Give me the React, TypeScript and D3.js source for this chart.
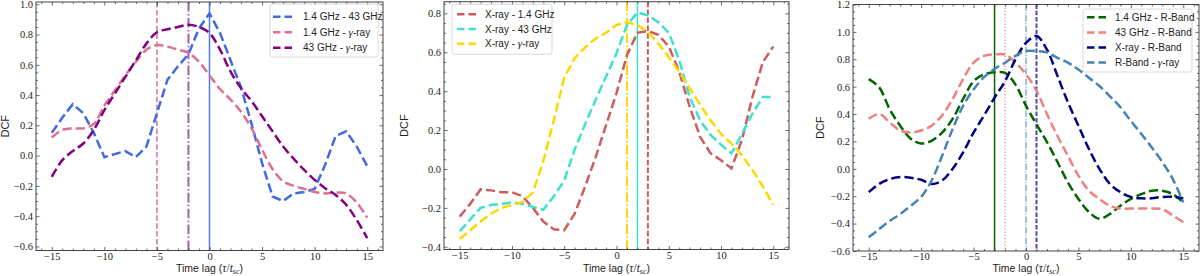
import React, { useEffect, useRef } from "react";
import * as d3 from "d3";

// time lags (tau / t_sc)
const lags = [-15, -14, -13, -12, -11, -10, -9, -8, -7, -6, -5, -4, -3, -2, -1, 0, 1, 2, 3, 4, 5, 6, 7, 8, 9, 10, 11, 12, 13, 14, 15];

// panel 1
const dcf14_43 = [0.15, 0.25, 0.34, 0.28, 0.15, -0.01, 0.01, 0.03, -0.01, 0.06, 0.28, 0.5, 0.59, 0.67, 0.84, 0.94, 0.81, 0.63, 0.45, 0.21, -0.05, -0.27, -0.3, -0.25, -0.24, -0.22, -0.06, 0.13, 0.16, 0.06, -0.07];
const dcf14_gamma = [0.12, 0.17, 0.18, 0.18, 0.21, 0.33, 0.43, 0.53, 0.62, 0.7, 0.73, 0.72, 0.7, 0.68, 0.62, 0.53, 0.44, 0.37, 0.29, 0.18, 0.04, -0.09, -0.17, -0.2, -0.22, -0.24, -0.25, -0.245, -0.25, -0.31, -0.41];
const dcf43_gamma = [-0.14, -0.03, 0.03, 0.08, 0.17, 0.3, 0.41, 0.52, 0.63, 0.74, 0.815, 0.835, 0.85, 0.865, 0.85, 0.81, 0.7, 0.555, 0.445, 0.36, 0.26, 0.16, 0.06, -0.02, -0.095, -0.16, -0.215, -0.26, -0.325, -0.425, -0.545];

// panel 2
const dcfX_14 = [-0.245, -0.18, -0.105, -0.11, -0.12, -0.12, -0.14, -0.2, -0.27, -0.31, -0.315, -0.23, -0.09, 0.06, 0.225, 0.39, 0.585, 0.7, 0.71, 0.69, 0.63, 0.5, 0.32, 0.165, 0.08, 0.045, 0.003, 0.15, 0.37, 0.55, 0.63];
const dcfX_43 = [-0.32, -0.26, -0.2, -0.185, -0.18, -0.17, -0.18, -0.195, -0.21, -0.14, -0.06, 0.1, 0.23, 0.355, 0.475, 0.595, 0.74, 0.805, 0.79, 0.755, 0.7, 0.56, 0.37, 0.25, 0.175, 0.125, 0.08, 0.18, 0.285, 0.37, 0.37];
const dcfX_gamma = [-0.36, -0.315, -0.27, -0.23, -0.2, -0.185, -0.17, -0.12, 0.04, 0.25, 0.47, 0.57, 0.625, 0.67, 0.7, 0.74, 0.755, 0.74, 0.705, 0.645, 0.575, 0.5, 0.415, 0.33, 0.25, 0.18, 0.13, 0.07, -0.005, -0.09, -0.185];

// panel 3
const dcf14_R = [0.655, 0.595, 0.435, 0.315, 0.22, 0.185, 0.205, 0.265, 0.365, 0.51, 0.64, 0.69, 0.705, 0.7, 0.615, 0.46, 0.325, 0.195, 0.05, -0.1, -0.22, -0.315, -0.365, -0.33, -0.27, -0.22, -0.185, -0.16, -0.16, -0.185, -0.245];
const dcf43_R = [0.365, 0.4, 0.34, 0.28, 0.265, 0.28, 0.315, 0.39, 0.51, 0.655, 0.775, 0.825, 0.835, 0.835, 0.775, 0.69, 0.57, 0.4, 0.24, 0.095, -0.05, -0.16, -0.22, -0.27, -0.29, -0.29, -0.29, -0.29, -0.295, -0.34, -0.39];
const dcfX_R = [-0.17, -0.11, -0.075, -0.06, -0.065, -0.08, -0.11, -0.085, 0.0, 0.12, 0.265, 0.39, 0.52, 0.64, 0.8, 0.92, 0.97, 0.87, 0.68, 0.485, 0.315, 0.145, 0.0, -0.11, -0.17, -0.205, -0.215, -0.215, -0.205, -0.205, -0.215];
const dcfR_gamma = [-0.5, -0.44, -0.38, -0.33, -0.27, -0.205, -0.085, 0.095, 0.29, 0.46, 0.58, 0.67, 0.73, 0.775, 0.825, 0.86, 0.86, 0.85, 0.81, 0.775, 0.725, 0.665, 0.605, 0.53, 0.45, 0.35, 0.255, 0.155, 0.05, -0.075, -0.245];

// peak lags marked by vertical lines
const peaks1 = [-5, -2, 0];
const peaks2 = [1, 2, 3];
const peaks3 = [-3, -2, 0, 1];

const xTicks = [-15, -10, -5, 0, 5, 10, 15];
const yTicks1 = [-0.6, -0.4, -0.2, 0.0, 0.2, 0.4, 0.6, 0.8, 1.0];
const yTicks2 = [-0.4, -0.2, 0.0, 0.2, 0.4, 0.6, 0.8];
const yTicks3 = [-0.6, -0.4, -0.2, 0.0, 0.2, 0.4, 0.6, 0.8, 1.0, 1.2];

const GAMMA = "\u03b3";

const panels = [
  {
    box: { x0: 36, x1: 383, y0: 2, y1: 250.5 },
    ylim: [-0.627, 1.015],
    yTicks: yTicks1,
    ylabelX: 5,
    series: [
      { name: ["1.4 GHz - 43 GHz"], values: dcf14_43, color: "royalblue", smooth: false },
      { name: ["1.4 GHz - ", "-ray"], values: dcf14_gamma, color: "palevioletred", smooth: true },
      { name: ["43 GHz - ", "-ray"], values: dcf43_gamma, color: "purple", smooth: true },
    ],
    vlines: [
      { x: peaks1[0], color: "palevioletred", dash: "5.5,2.4", w: 1.5, op: 1 },
      { x: peaks1[1], color: "purple", dash: "9.6,2.4,1.5,2.4", w: 2, op: 0.65 },
      { x: peaks1[2], color: "royalblue", dash: null, w: 1.5, op: 0.9 },
    ],
    legend: { x: 270, y: 4, w: 108, h: 53, row0: 16.7, dy: 15.5, hx: 273, hw: 20, tx: 303 },
  },
  {
    box: { x0: 444, x1: 789, y0: 1.7, y1: 249.5 },
    ylim: [-0.414, 0.86],
    yTicks: yTicks2,
    ylabelX: 404,
    series: [
      { name: ["X-ray - 1.4 GHz"], values: dcfX_14, color: "indianred", smooth: false },
      { name: ["X-ray - 43 GHz"], values: dcfX_43, color: "turquoise", smooth: false },
      { name: ["X-ray - ", "-ray"], values: dcfX_gamma, color: "gold", smooth: false },
    ],
    vlines: [
      { x: peaks2[0], color: "gold", dash: "9.6,2.4,1.5,2.4", w: 2, op: 1 },
      { x: peaks2[1], color: "turquoise", dash: null, w: 1.5, op: 1 },
      { x: peaks2[2], color: "indianred", dash: "5.5,2.4", w: 2, op: 1 },
    ],
    legend: { x: 452, y: 4.3, w: 100, h: 50, row0: 14.3, dy: 14.7, hx: 457, hw: 21, tx: 485 },
  },
  {
    box: { x0: 853, x1: 1199, y0: 4.5, y1: 251 },
    ylim: [-0.6, 1.2],
    yTicks: yTicks3,
    ylabelX: 820,
    series: [
      { name: ["1.4 GHz - R-Band"], values: dcf14_R, color: "darkgreen", smooth: true },
      { name: ["43 GHz - R-Band"], values: dcf43_R, color: "lightcoral", smooth: true },
      { name: ["X-ray - R-Band"], values: dcfX_R, color: "navy", smooth: true },
      { name: ["R-Band - ", "-ray"], values: dcfR_gamma, color: "steelblue", smooth: true },
    ],
    vlines: [
      { x: peaks3[0], color: "darkgreen", dash: null, w: 1.5, op: 1 },
      { x: peaks3[1], color: "lightcoral", dash: "1.2,2", w: 1.2, op: 1 },
      { x: peaks3[2], color: "steelblue", dash: "6.4,1.6,1,1.6", w: 1, op: 1 },
      { x: peaks3[3], color: "navy", dash: "4.5,1.8", w: 2, op: 0.7 },
    ],
    legend: { x: 1083, y: 9, w: 109, h: 63, row0: 17.3, dy: 15.1, hx: 1087, hw: 21, tx: 1115 },
  },
];

const serif = "'Liberation Serif', 'Times New Roman', serif";
const sans = "'Liberation Sans', 'DejaVu Sans', sans-serif";
const fmt = (d: number) => d3.format(".1f")(d).replace("-", "\u2212");
const fmtX = (d: number) => String(d).replace("-", "\u2212");

export default function App() {
  const ref = useRef<SVGSVGElement>(null);

  useEffect(() => {
    const svg = d3.select(ref.current);
    svg.selectAll("*").remove();

    panels.forEach((p) => {
      const { box } = p;
      const x = d3.scaleLinear().domain([-16.5, 16.5]).range([box.x0, box.x1]);
      const y = d3.scaleLinear().domain(p.ylim).range([box.y1, box.y0]);
      const g = svg.append("g");

      // vertical lag markers
      p.vlines.forEach((v) => {
        g.append("line")
          .attr("x1", x(v.x)).attr("x2", x(v.x))
          .attr("y1", box.y0).attr("y2", box.y1)
          .attr("stroke", v.color)
          .attr("stroke-width", v.w)
          .attr("stroke-opacity", v.op)
          .attr("stroke-dasharray", v.dash);
      });

      // curves
      p.series.forEach((s) => {
        const line = d3.line<number>()
          .x((_, i) => x(lags[i]))
          .y((d) => y(d))
          .curve(s.smooth ? d3.curveCatmullRom.alpha(0.5) : d3.curveLinear);
        g.append("path")
          .attr("d", line(s.values))
          .attr("fill", "none")
          .attr("stroke", s.color)
          .attr("stroke-width", 2.5)
          .attr("stroke-dasharray", "9.25,4");
      });

      // ticks, inward on all four sides
      const minorX = d3.range(-16, 17, 1).filter((t) => t % 5 !== 0);
      const yStep = 0.05;
      const minorY = d3.range(Math.ceil(p.ylim[0] / yStep), Math.floor(p.ylim[1] / yStep) + 1)
        .map((k) => k * yStep)
        .filter((t) => Math.abs(Math.round(t / 0.2) * 0.2 - t) > 1e-6);

      const axisStyle = (sel: any) => {
        sel.select(".domain").remove();
        sel.selectAll("line").attr("stroke", "#444").attr("stroke-width", 0.8);
      };

      g.append("g").attr("transform", `translate(0,${box.y1})`)
        .call(d3.axisBottom(x).tickValues(xTicks).tickSize(-3.5).tickPadding(2).tickFormat(fmtX as any))
        .call(axisStyle)
        .selectAll("text").attr("font-family", serif).attr("font-size", 10.5).attr("fill", "#222");
      g.append("g").attr("transform", `translate(0,${box.y1})`)
        .call(d3.axisBottom(x).tickValues(minorX).tickSize(-2).tickFormat(() => ""))
        .call(axisStyle);
      g.append("g").attr("transform", `translate(0,${box.y0})`)
        .call(d3.axisTop(x).tickValues(xTicks).tickSize(-3.5).tickFormat(() => ""))
        .call(axisStyle);
      g.append("g").attr("transform", `translate(0,${box.y0})`)
        .call(d3.axisTop(x).tickValues(minorX).tickSize(-2).tickFormat(() => ""))
        .call(axisStyle);

      g.append("g").attr("transform", `translate(${box.x0},0)`)
        .call(d3.axisLeft(y).tickValues(p.yTicks).tickSize(-3.5).tickPadding(3).tickFormat(fmt as any))
        .call(axisStyle)
        .selectAll("text").attr("font-family", serif).attr("font-size", 10.5).attr("fill", "#222");
      g.append("g").attr("transform", `translate(${box.x0},0)`)
        .call(d3.axisLeft(y).tickValues(minorY).tickSize(-2).tickFormat(() => ""))
        .call(axisStyle);
      g.append("g").attr("transform", `translate(${box.x1},0)`)
        .call(d3.axisRight(y).tickValues(p.yTicks).tickSize(-3.5).tickFormat(() => ""))
        .call(axisStyle);
      g.append("g").attr("transform", `translate(${box.x1},0)`)
        .call(d3.axisRight(y).tickValues(minorY).tickSize(-2).tickFormat(() => ""))
        .call(axisStyle);

      // frame
      g.append("rect")
        .attr("x", box.x0).attr("y", box.y0)
        .attr("width", box.x1 - box.x0).attr("height", box.y1 - box.y0)
        .attr("fill", "none").attr("stroke", "#444").attr("stroke-width", 1);

      // axis labels
      const xl = g.append("text")
        .attr("x", (box.x0 + box.x1) / 2).attr("y", 272)
        .attr("text-anchor", "middle")
        .attr("font-family", sans).attr("font-size", 10.5).attr("fill", "#222");
      xl.append("tspan").text("Time lag (");
      xl.append("tspan").attr("font-family", serif).attr("font-style", "italic").attr("font-size", 11.5).text("\u03c4");
      xl.append("tspan").attr("font-family", serif).attr("font-size", 11.5).text("/");
      xl.append("tspan").attr("font-family", serif).attr("font-style", "italic").attr("font-size", 11.5).text("t");
      xl.append("tspan").attr("font-family", serif).attr("font-style", "italic").attr("font-size", 8).attr("dy", 2).text("sc");
      xl.append("tspan").attr("dy", -2).text(")");

      g.append("text")
        .attr("transform", `translate(${p.ylabelX + 4},${(box.y0 + box.y1) / 2}) rotate(-90)`)
        .attr("text-anchor", "middle")
        .attr("font-family", sans).attr("font-size", 11).attr("fill", "#222")
        .text("DCF");

      // legend
      const L = p.legend;
      g.append("rect")
        .attr("x", L.x).attr("y", L.y).attr("width", L.w).attr("height", L.h)
        .attr("rx", 2.5)
        .attr("fill", "white").attr("fill-opacity", 0.85)
        .attr("stroke", "#d0d0d0").attr("stroke-width", 0.8);
      p.series.forEach((s, i) => {
        const ry = L.row0 + i * L.dy;
        g.append("line")
          .attr("x1", L.hx).attr("x2", L.hx + L.hw)
          .attr("y1", ry).attr("y2", ry)
          .attr("stroke", s.color).attr("stroke-width", 2.5)
          .attr("stroke-dasharray", "7.5,4");
        const t = g.append("text")
          .attr("x", L.tx).attr("y", ry + 3.5)
          .attr("font-family", sans).attr("font-size", 10).attr("fill", "#222");
        t.append("tspan").text(s.name[0]);
        if (s.name.length > 1) {
          t.append("tspan").attr("font-family", serif).attr("font-style", "italic").attr("font-size", 11).text(GAMMA);
          t.append("tspan").text(s.name[1]);
        }
      });
    });
  }, []);

  return (
    <svg
      ref={ref}
      width={1200}
      height={276}
      style={{ position: "absolute", left: 0, top: 0, background: "white" }}
    />
  );
}
